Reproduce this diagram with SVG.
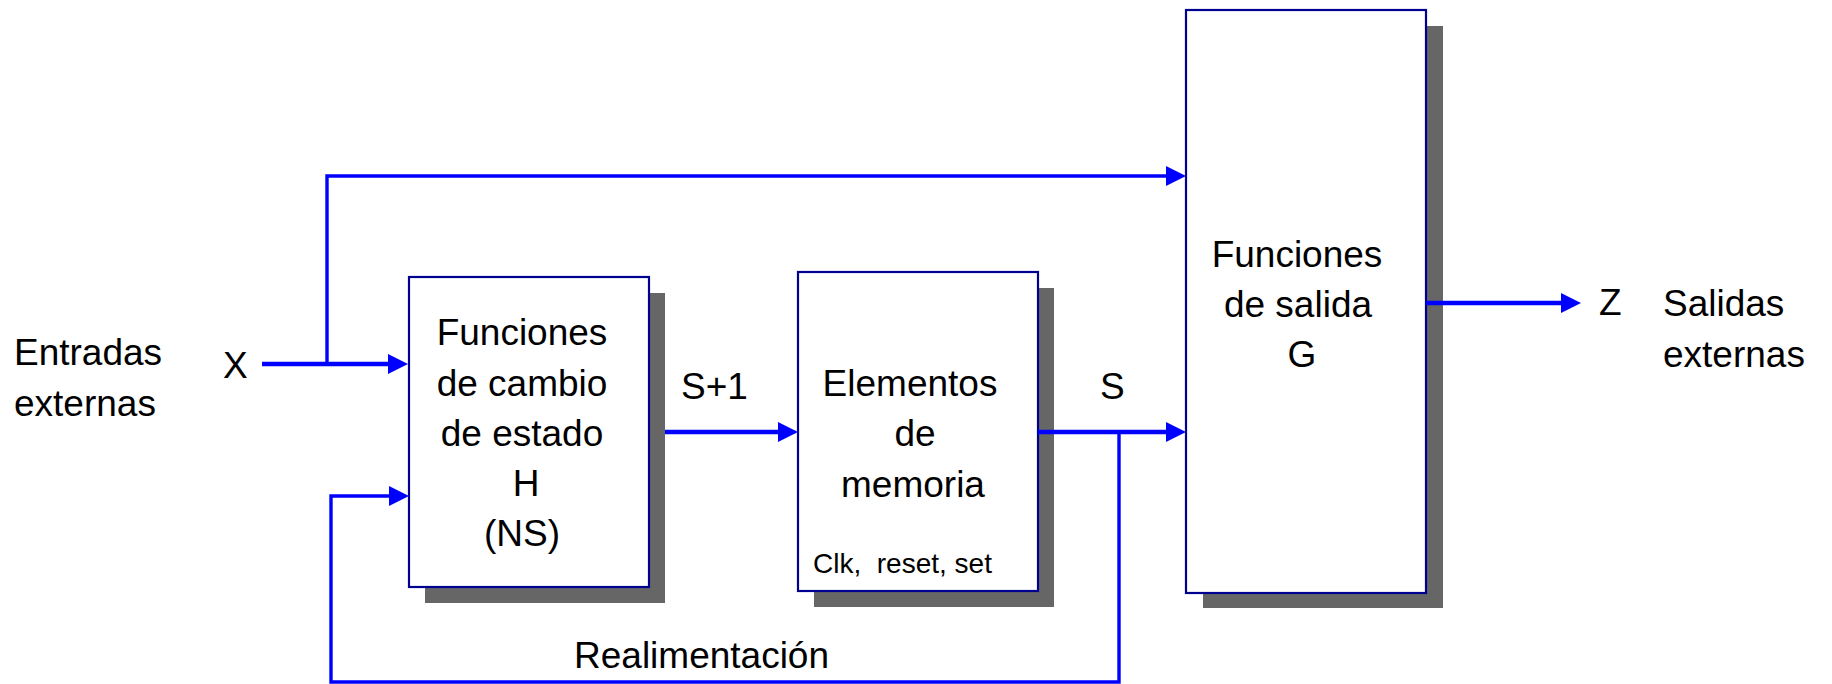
<svg xmlns="http://www.w3.org/2000/svg" width="1832" height="684" viewBox="0 0 1832 684">
  <style>
    text { font-family: "Liberation Sans", Arial, sans-serif; font-size: 37px; fill: #000; }
    .mid { text-anchor: middle; }
    .small { font-size: 28px; white-space: pre; }
    .box { fill: #fff; stroke: #000090; stroke-width: 2.2; }
    .shadow { fill: #666; }
    .wire { fill: none; stroke: #0000ff; stroke-linejoin: miter; }
    .thick { stroke-width: 4.3; }
    .thin { stroke-width: 3.4; }
  </style>
  <defs>
    <marker id="arrow" markerUnits="userSpaceOnUse" markerWidth="20" markerHeight="20" refX="10" refY="10" orient="auto">
      <path d="M0,0 L20,10 L0,20 z" fill="#0000ff"/>
    </marker>
  </defs>

  <rect width="1832" height="684" fill="#fff"/>

  <!-- external labels -->
  <g id="inputs-label">
    <text x="14" y="365">Entradas</text>
    <text x="14" y="416">externas</text>
    <text x="223" y="378">X</text>
  </g>
  <g id="outputs-label">
    <text x="1599" y="315">Z</text>
    <text x="1663" y="316">Salidas</text>
    <text x="1663" y="367">externas</text>
  </g>

  <!-- next-state logic H -->
  <g id="node-h">
    <rect class="shadow" x="425" y="293" width="240" height="310"/>
    <rect class="box" x="409" y="277" width="240" height="310"/>
    <text class="mid" x="522" y="345">Funciones</text>
    <text class="mid" x="522" y="396">de cambio</text>
    <text class="mid" x="522" y="446">de estado</text>
    <text class="mid" x="526" y="496">H</text>
    <text class="mid" x="522" y="546">(NS)</text>
  </g>

  <!-- memory elements -->
  <g id="node-memory">
    <rect class="shadow" x="814" y="288" width="240" height="319"/>
    <rect class="box" x="798" y="272" width="240" height="319"/>
    <text class="mid" x="910" y="396">Elementos</text>
    <text class="mid" x="915" y="446">de</text>
    <text class="mid" x="913" y="497">memoria</text>
    <text class="small" x="813" y="573">Clk,  reset, set</text>
  </g>

  <!-- output logic G -->
  <g id="node-g">
    <rect class="shadow" x="1203" y="26" width="240" height="582"/>
    <rect class="box" x="1186" y="10" width="240" height="583"/>
    <text class="mid" x="1297" y="267">Funciones</text>
    <text class="mid" x="1298" y="317">de salida</text>
    <text class="mid" x="1302" y="367">G</text>
  </g>

  <!-- signal labels -->
  <g id="signal-labels">
    <text x="681" y="399">S+1</text>
    <text x="1100" y="399">S</text>
    <text x="574" y="668">Realimentación</text>
  </g>

  <!-- connectors -->
  <g id="connectors">
    <path class="wire thick" d="M262,364 H398" marker-end="url(#arrow)"/>
    <path class="wire thin" d="M327,364 V176 H1176" marker-end="url(#arrow)"/>
    <path class="wire thick" d="M665,432 H788" marker-end="url(#arrow)"/>
    <path class="wire thick" d="M1038,432 H1176" marker-end="url(#arrow)"/>
    <path class="wire thin" d="M1119,432 V682 H331 V496 H399" marker-end="url(#arrow)"/>
    <path class="wire thick" d="M1426,303 H1571" marker-end="url(#arrow)"/>
  </g>
</svg>
